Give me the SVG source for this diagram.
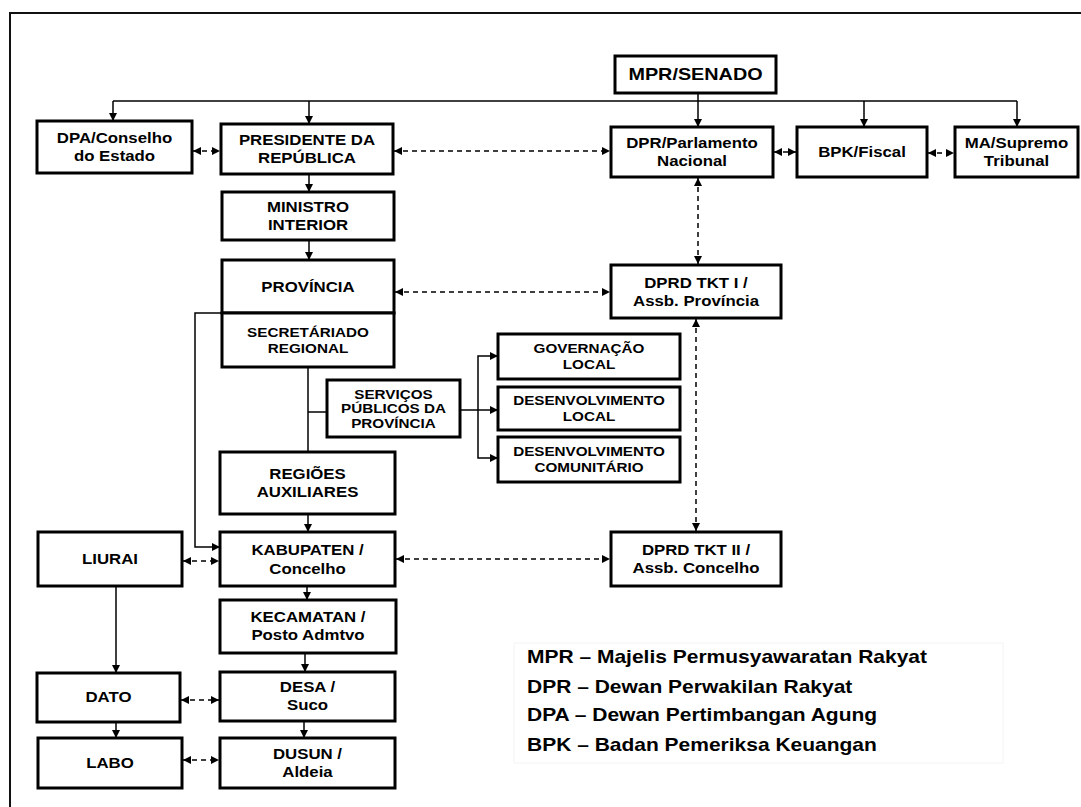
<svg xmlns="http://www.w3.org/2000/svg" width="1081" height="807" viewBox="0 0 1081 807">
<style>
.box{fill:#fff;stroke:#000;stroke-width:3}
.t{font-family:"Liberation Sans",Arial,sans-serif;font-weight:bold;font-size:14px;text-anchor:middle;fill:#000}
.s{font-size:12.7px}
.big{font-size:16.5px}
.leg{font-family:"Liberation Sans",Arial,sans-serif;font-weight:bold;font-size:17.5px;fill:#000}
.ln{fill:none;stroke:#000;stroke-width:1.5}
.dash{fill:none;stroke:#000;stroke-width:1.5;stroke-dasharray:5 4}
</style>
<defs>
<marker id="ah" markerUnits="userSpaceOnUse" markerWidth="9" markerHeight="9" refX="8" refY="4" orient="auto">
<path d="M0,0 L8,4 L0,8 z" fill="#000"/>
</marker>
<marker id="as" markerUnits="userSpaceOnUse" markerWidth="9" markerHeight="9" refX="0" refY="4" orient="auto">
<path d="M8,0 L0,4 L8,8 z" fill="#000"/>
</marker>
</defs>
<rect width="1081" height="807" fill="#fff"/>
<path d="M10,807 L10,13 L1081,13" fill="none" stroke="#111" stroke-width="2"/>

<g id="connectors">
<!-- MPR bus -->
<path class="ln" d="M698,93 L698,127" marker-end="url(#ah)"/>
<path class="ln" d="M113,101 L1017,101"/>
<path class="ln" d="M113,101 L113,121" marker-end="url(#ah)"/>
<path class="ln" d="M309,101 L309,124" marker-end="url(#ah)"/>
<path class="ln" d="M864,101 L864,127" marker-end="url(#ah)"/>
<path class="ln" d="M1017,101 L1017,127" marker-end="url(#ah)"/>
<!-- horizontal double arrows top row -->
<path class="dash" d="M193,151 L220,151" marker-start="url(#as)" marker-end="url(#ah)"/>
<path class="dash" d="M394,151 L610,151" marker-start="url(#as)" marker-end="url(#ah)"/>
<path class="dash" d="M774,152 L796,152" marker-start="url(#as)" marker-end="url(#ah)"/>
<path class="dash" d="M928,153 L954,153" marker-start="url(#as)" marker-end="url(#ah)"/>
<!-- DPR - DPRD vertical -->
<path class="dash" d="M698,178 L698,264" marker-start="url(#as)" marker-end="url(#ah)"/>
<path class="dash" d="M696,319 L696,531" marker-start="url(#as)" marker-end="url(#ah)"/>
<path class="dash" d="M395,292 L610,292" marker-start="url(#as)" marker-end="url(#ah)"/>
<!-- main column -->
<path class="ln" d="M309,174 L309,192" marker-end="url(#ah)"/>
<path class="ln" d="M309,240 L309,260" marker-end="url(#ah)"/>
<path class="ln" d="M222,313 L195,313 L195,547 L220,547" marker-end="url(#ah)"/>
<path class="ln" d="M308,367 L308,452"/>
<path class="ln" d="M308,412 L327,412"/>
<path class="ln" d="M460,410 L478,410"/>
<path class="ln" d="M498,356 L478,356 L478,458 L498,458" marker-start="url(#as)" marker-end="url(#ah)"/>
<path class="ln" d="M478,410 L498,410" marker-end="url(#ah)"/>
<path class="ln" d="M308,514 L308,532" marker-end="url(#ah)"/>
<path class="ln" d="M307,586 L307,600" marker-end="url(#ah)"/>
<path class="ln" d="M305,653 L305,672" marker-end="url(#ah)"/>
<path class="ln" d="M304,721 L304,738" marker-end="url(#ah)"/>
<!-- lower horizontal dashed -->
<path class="dash" d="M183,561 L219,561" marker-start="url(#as)" marker-end="url(#ah)"/>
<path class="dash" d="M396,559 L610,559" marker-start="url(#as)" marker-end="url(#ah)"/>
<path class="dash" d="M181,700 L219,700" marker-start="url(#as)" marker-end="url(#ah)"/>
<path class="dash" d="M183,760 L219,760" marker-start="url(#as)" marker-end="url(#ah)"/>
<!-- left column -->
<path class="ln" d="M116,586 L116,673" marker-end="url(#ah)"/>
<path class="ln" d="M116,722 L116,738" marker-end="url(#ah)"/>
</g>

<g id="mpr"><rect class="box" x="615" y="56" width="161" height="37"/>
<text class="t big" transform="translate(695.5 0) scale(1.2 1)"><tspan x="0" y="80.5">MPR/SENADO</tspan></text></g>

<g id="dpa"><rect class="box" x="37" y="121" width="155" height="52"/>
<text class="t" transform="translate(114.5 0) scale(1.2 1)"><tspan x="0" y="143">DPA/Conselho</tspan><tspan x="0" y="161">do Estado</tspan></text></g>

<g id="presidente"><rect class="box" x="221" y="124" width="172" height="50"/>
<text class="t" transform="translate(307 0) scale(1.2 1)"><tspan x="0" y="145">PRESIDENTE DA</tspan><tspan x="0" y="163">REPÚBLICA</tspan></text></g>

<g id="dpr"><rect class="box" x="611" y="127" width="162" height="50"/>
<text class="t" transform="translate(692 0) scale(1.2 1)"><tspan x="0" y="148">DPR/Parlamento</tspan><tspan x="0" y="166">Nacional</tspan></text></g>

<g id="bpk"><rect class="box" x="797" y="127" width="130" height="50"/>
<text class="t" transform="translate(862 0) scale(1.2 1)"><tspan x="0" y="157">BPK/Fiscal</tspan></text></g>

<g id="ma"><rect class="box" x="955" y="127" width="123" height="50"/>
<text class="t" transform="translate(1016.5 0) scale(1.2 1)"><tspan x="0" y="148">MA/Supremo</tspan><tspan x="0" y="166">Tribunal</tspan></text></g>

<g id="ministro"><rect class="box" x="222" y="192" width="172" height="48"/>
<text class="t" transform="translate(308 0) scale(1.2 1)"><tspan x="0" y="212">MINISTRO</tspan><tspan x="0" y="230">INTERIOR</tspan></text></g>

<g id="provincia"><rect class="box" x="222" y="260" width="172" height="53"/>
<text class="t" transform="translate(308 0) scale(1.2 1)"><tspan x="0" y="292">PROVÍNCIA</tspan></text></g>

<g id="secretariado"><rect class="box" x="222" y="313" width="172" height="54"/>
<text class="t s" transform="translate(308 0) scale(1.2 1)"><tspan x="0" y="336.7">SECRETÁRIADO</tspan><tspan x="0" y="352.7">REGIONAL</tspan></text></g>

<g id="dprd1"><rect class="box" x="611" y="265" width="170" height="53"/>
<text class="t" transform="translate(696 0) scale(1.2 1)"><tspan x="0" y="288">DPRD TKT I /</tspan><tspan x="0" y="306">Assb. Província</tspan></text></g>

<g id="servicos"><rect class="box" x="327" y="380" width="133" height="57"/>
<text class="t s" transform="translate(393.5 0) scale(1.2 1)"><tspan x="0" y="398.7">SERVIÇOS</tspan><tspan x="0" y="413.5">PÚBLICOS DA</tspan><tspan x="0" y="428.3">PROVÍNCIA</tspan></text></g>

<g id="governacao"><rect class="box" x="498" y="334" width="182" height="45"/>
<text class="t s" transform="translate(589 0) scale(1.2 1)"><tspan x="0" y="353">GOVERNAÇÃO</tspan><tspan x="0" y="369">LOCAL</tspan></text></g>

<g id="desenv-local"><rect class="box" x="498" y="387" width="182" height="43"/>
<text class="t s" transform="translate(589 0) scale(1.2 1)"><tspan x="0" y="405">DESENVOLVIMENTO</tspan><tspan x="0" y="421">LOCAL</tspan></text></g>

<g id="desenv-comunitario"><rect class="box" x="498" y="437" width="182" height="45"/>
<text class="t s" transform="translate(589 0) scale(1.2 1)"><tspan x="0" y="456">DESENVOLVIMENTO</tspan><tspan x="0" y="472">COMUNITÁRIO</tspan></text></g>

<g id="regioes"><rect class="box" x="220" y="452" width="175" height="62"/>
<text class="t" transform="translate(307.5 0) scale(1.2 1)"><tspan x="0" y="479">REGIÕES</tspan><tspan x="0" y="497">AUXILIARES</tspan></text></g>

<g id="kabupaten"><rect class="box" x="220" y="532" width="175" height="54"/>
<text class="t" transform="translate(307.5 0) scale(1.2 1)"><tspan x="0" y="555.5">KABUPATEN /</tspan><tspan x="0" y="574">Concelho</tspan></text></g>

<g id="dprd2"><rect class="box" x="611" y="532" width="170" height="54"/>
<text class="t" transform="translate(696 0) scale(1.2 1)"><tspan x="0" y="555">DPRD TKT II /</tspan><tspan x="0" y="573">Assb. Concelho</tspan></text></g>

<g id="liurai"><rect class="box" x="38" y="532" width="144" height="54"/>
<text class="t" transform="translate(110 0) scale(1.2 1)"><tspan x="0" y="564">LIURAI</tspan></text></g>

<g id="kecamatan"><rect class="box" x="220" y="600" width="176" height="53"/>
<text class="t" transform="translate(308 0) scale(1.2 1)"><tspan x="0" y="622.5">KECAMATAN /</tspan><tspan x="0" y="640.5">Posto Admtvo</tspan></text></g>

<g id="dato"><rect class="box" x="37" y="673" width="143" height="49"/>
<text class="t" transform="translate(108.5 0) scale(1.2 1)"><tspan x="0" y="702.5">DATO</tspan></text></g>

<g id="desa"><rect class="box" x="220" y="672" width="175" height="49"/>
<text class="t" transform="translate(307.5 0) scale(1.2 1)"><tspan x="0" y="692.5">DESA /</tspan><tspan x="0" y="710.5">Suco</tspan></text></g>

<g id="labo"><rect class="box" x="38" y="738" width="144" height="50"/>
<text class="t" transform="translate(110 0) scale(1.2 1)"><tspan x="0" y="768">LABO</tspan></text></g>

<g id="dusun"><rect class="box" x="220" y="738" width="175" height="50"/>
<text class="t" transform="translate(307.5 0) scale(1.2 1)"><tspan x="0" y="759">DUSUN /</tspan><tspan x="0" y="777">Aldeia</tspan></text></g>

<g id="legend">
<rect x="514" y="643" width="489" height="120" fill="none" stroke="#f3f3f3" stroke-width="1"/>
<text class="leg" transform="translate(527 663) scale(1.2 1)">MPR – Majelis Permusyawaratan Rakyat</text>
<text class="leg" transform="translate(527 692.5) scale(1.2 1)">DPR – Dewan Perwakilan Rakyat</text>
<text class="leg" transform="translate(527 720.5) scale(1.2 1)">DPA – Dewan Pertimbangan Agung</text>
<text class="leg" transform="translate(527 750.5) scale(1.2 1)">BPK – Badan Pemeriksa Keuangan</text>
</g>
</svg>
